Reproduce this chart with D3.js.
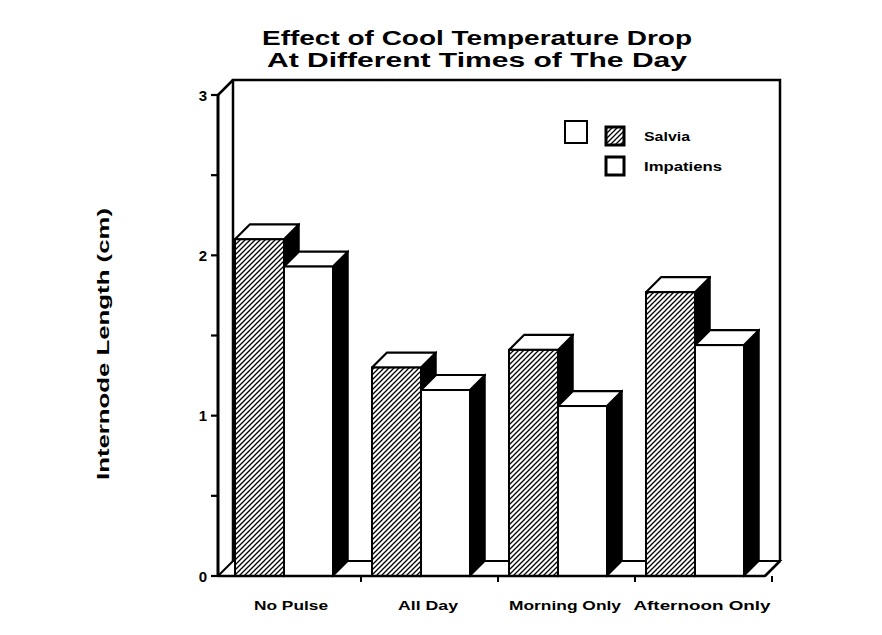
<!DOCTYPE html>
<html><head><meta charset="utf-8">
<script src="https://cdn.jsdelivr.net/npm/d3@7"></script>
<style>body{margin:0;background:#fff}svg{display:block}text{font-family:"Liberation Sans",Arial,Helvetica,sans-serif;font-weight:bold;fill:#000}</style>
</head><body>
<script>
const categories = ["No Pulse", "All Day", "Morning Only", "Afternoon Only"];
const seriesNames = ["Salvia", "Impatiens"];
const salvia = [2.1, 1.3, 1.41, 1.77];
const impatiens = [1.93, 1.16, 1.06, 1.44];
const yTickLabels = [0, 1, 2, 3];
const yMinorTicks = [0, 0.5, 1, 1.5, 2, 2.5, 3];
const titleLines = ["Effect of Cool Temperature Drop", "At Different Times of The Day"];
const yTitle = "Internode Length (cm)";

const W = 882, H = 635;
const svg = d3.select("body").append("svg").attr("width", W).attr("height", H);
const defs = svg.append("defs");
const pat = defs.append("pattern").attr("id", "hatch").attr("patternUnits", "userSpaceOnUse")
  .attr("width", 5).attr("height", 5);
pat.append("rect").attr("width", 5).attr("height", 5).attr("fill", "#fff");
pat.append("path").attr("d", "M-1,6 L6,-1 M-2,2 L2,-2 M3,7 L7,3").attr("stroke", "#000").attr("stroke-width", 1.3);

const dx = 15, dy = -15;
const y = d3.scaleLinear().domain([0, 3]).range([576, 95]);
const x0 = d3.scaleBand().domain(categories).range([235, 235 + 4 * 137]).padding(0);
const x1 = d3.scaleBand().domain(seriesNames).range([0, 98]).padding(0);

const axisLeft = 218;
const xRight = x0.range()[1] - 18; // front right end of floor
const y0 = y(0), yTop = y(3);

// back wall
const g = svg.append("g");
g.append("path").attr("d", `M${axisLeft + dx},${y0 + dy} L${axisLeft + dx},${yTop + dy} L${xRight + dx},${yTop + dy} L${xRight + dx},${y0 + dy}`)
  .attr("fill", "none").attr("stroke", "#000").attr("stroke-width", 2.5);
// floor
g.append("path").attr("d", `M${axisLeft},${y0} L${axisLeft + dx},${y0 + dy} L${xRight + dx},${y0 + dy} L${xRight},${y0} Z`)
  .attr("fill", "#fff").attr("stroke", "#000").attr("stroke-width", 2);

// bars
const data = categories.map((c, i) => ({ cat: c, vals: [
  { s: "Salvia", v: salvia[i] }, { s: "Impatiens", v: impatiens[i] }] }));
const bars = g.selectAll("g.grp").data(data).join("g").attr("class", "grp")
  .attr("transform", d => `translate(${x0(d.cat)},0)`);
bars.each(function(d) {
  const gg = d3.select(this);
  d.vals.forEach(b => {
    const xl = x1(b.s), w = x1.bandwidth(), yt = y(b.v);
    gg.append("path").attr("d", `M${xl + w},${yt} L${xl + w + dx},${yt + dy} L${xl + w + dx},${y0 + dy} L${xl + w},${y0} Z`)
      .attr("fill", "#000").attr("stroke", "#000").attr("stroke-width", 1.5);
    gg.append("path").attr("d", `M${xl},${yt} L${xl + dx},${yt + dy} L${xl + w + dx},${yt + dy} L${xl + w},${yt} Z`)
      .attr("fill", "#fff").attr("stroke", "#000").attr("stroke-width", 2.2).attr("stroke-linejoin", "round");
    gg.append("rect").attr("x", xl).attr("y", yt).attr("width", w).attr("height", y0 - yt)
      .attr("fill", b.s === "Salvia" ? "url(#hatch)" : "#fff").attr("stroke", "#000").attr("stroke-width", 2);
  });
});

// front floor line and axis
g.append("line").attr("x1", axisLeft).attr("x2", xRight).attr("y1", y0).attr("y2", y0).attr("stroke", "#000").attr("stroke-width", 2.5);
g.append("line").attr("x1", xRight).attr("x2", xRight + dx).attr("y1", y0).attr("y2", y0 + dy).attr("stroke", "#000").attr("stroke-width", 2.5);
g.append("line").attr("x1", axisLeft).attr("x2", axisLeft).attr("y1", y0).attr("y2", yTop).attr("stroke", "#000").attr("stroke-width", 3);
g.append("line").attr("x1", axisLeft).attr("x2", axisLeft + dx).attr("y1", yTop).attr("y2", yTop + dy).attr("stroke", "#000").attr("stroke-width", 2.5);

// y ticks
g.selectAll("line.yt").data(yMinorTicks).join("line").attr("class", "yt")
  .attr("x1", axisLeft - 7).attr("x2", axisLeft).attr("y1", d => y(d)).attr("y2", d => y(d))
  .attr("stroke", "#000").attr("stroke-width", 2.2);
g.selectAll("text.yl").data(yTickLabels).join("text").attr("class", "yl")
  .attr("x", axisLeft - 11).attr("y", d => y(d) + 5.5).attr("text-anchor", "end")
  .attr("font-size", 15).text(d => d);

// x ticks
g.selectAll("line.xt").data(categories).join("line").attr("class", "xt")
  .attr("x1", d => x0(d) + x0.step() - 11).attr("x2", d => x0(d) + x0.step() - 11)
  .attr("y1", y0).attr("y2", y0 + 6).attr("stroke", "#000").attr("stroke-width", 2);
const xLabelW = [74, 60, 112, 137];
g.selectAll("text.xl").data(categories).join("text").attr("class", "xl")
  .attr("x", d => x0(d) + x1.bandwidth() + 7).attr("y", 610).attr("text-anchor", "middle")
  .attr("font-size", 13).attr("textLength", (d, i) => xLabelW[i]).attr("lengthAdjust", "spacingAndGlyphs")
  .text(d => d);

// title
svg.selectAll("text.title").data(titleLines).join("text").attr("class", "title")
  .attr("x", 477).attr("y", (d, i) => 45 + i * 22).attr("text-anchor", "middle")
  .attr("font-size", 21).attr("textLength", (d, i) => [430, 420][i]).attr("lengthAdjust", "spacingAndGlyphs")
  .text(d => d);

// y title
svg.append("text").attr("transform", "translate(109,344) rotate(-90)").attr("text-anchor", "middle")
  .attr("font-size", 17).attr("textLength", 272).attr("lengthAdjust", "spacingAndGlyphs").text(yTitle);

// legend
const lg = svg.append("g");
lg.append("rect").attr("x", 565).attr("y", 121).attr("width", 22).attr("height", 22)
  .attr("fill", "#fff").attr("stroke", "#000").attr("stroke-width", 2);
const legendRows = seriesNames.map((s, i) => ({ s, i }));
lg.selectAll("rect.lb").data(legendRows).join("rect").attr("class", "lb")
  .attr("x", 606).attr("y", d => 127 + d.i * 30).attr("width", 18).attr("height", 18)
  .attr("fill", d => d.s === "Salvia" ? "url(#hatch)" : "#fff").attr("stroke", "#000").attr("stroke-width", 3);
lg.selectAll("text.lt").data(legendRows).join("text").attr("class", "lt")
  .attr("x", 644).attr("y", d => 141 + d.i * 30).attr("font-size", 12)
  .attr("textLength", d => d.s === "Salvia" ? 46 : 78).attr("lengthAdjust", "spacingAndGlyphs")
  .text(d => d.s);
</script>
</body></html>
